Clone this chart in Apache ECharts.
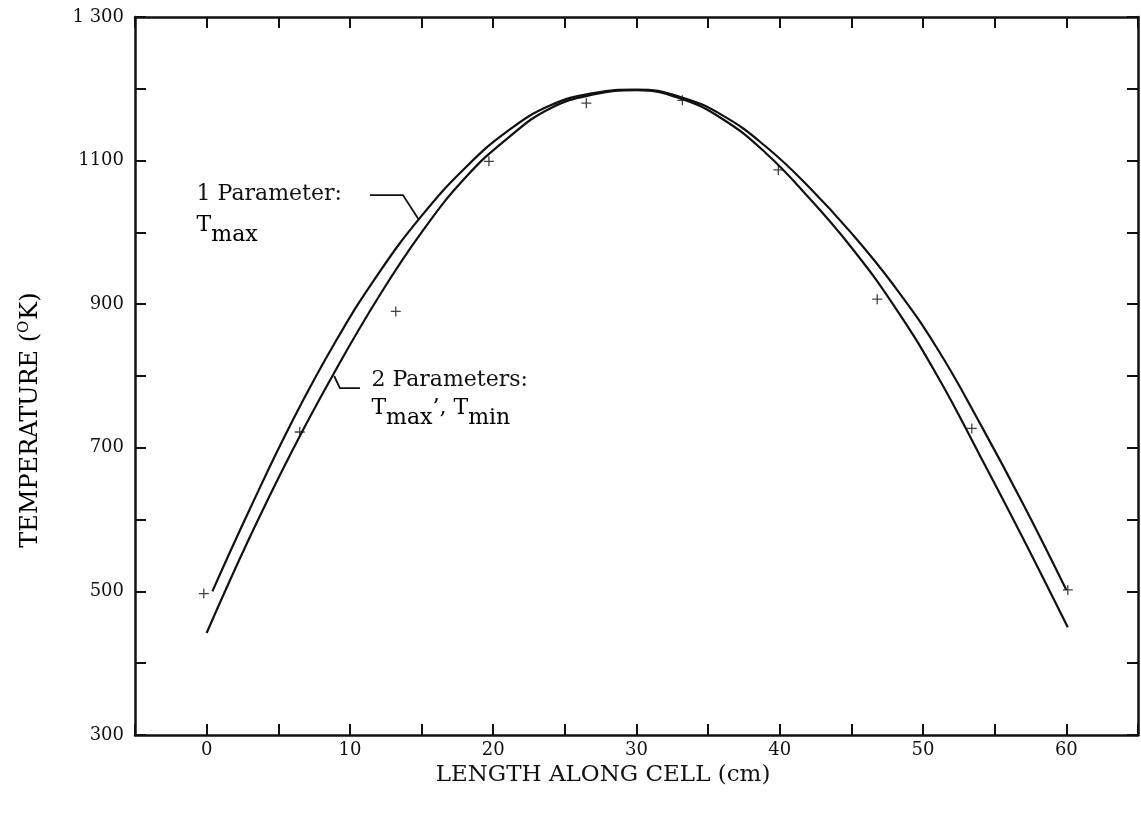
<!DOCTYPE html>
<html>
<head>
<meta charset="utf-8">
<script src="https://cdn.jsdelivr.net/npm/echarts@6/dist/echarts.min.js"></script>
<style>
  html, body { margin: 0; padding: 0; background: #ffffff; }
  #chart { width: 1141px; height: 821px; }
</style>
</head>
<body>
<div id="chart"></div>
<script>
// Axis ranges and labelled ticks
const xRange = [-5, 65];
const xStep = 5;
const xLabelValues = [0, 10, 20, 30, 40, 50, 60];
const yRange = [300, 1300];
const yStep = 100;
const yLabelValues = [300, 500, 700, 900, 1100, 1300];
const yLabelTexts = ['300', '500', '700', '900', '1100', '1 300'];

// Fitted profile, one parameter (T max)
const oneParamX = [0.4, 3, 6, 9, 12, 15, 18, 21, 24, 27, 30, 33, 36, 39, 42, 45, 48, 51, 54, 57, 60];
const oneParamT = [500, 614, 738, 848, 943, 1023, 1089, 1141, 1177, 1194, 1199, 1189, 1163, 1120, 1064, 999, 925, 838, 733, 621, 502];

// Fitted profile, two parameters (T max, T min)
const twoParamX = [0, 3, 6, 9, 12, 15, 18, 21, 24, 27, 30, 33, 36, 39, 42, 45, 48, 51, 54, 57, 60.1];
const twoParamT = [442, 575, 697, 808, 910, 1000, 1075, 1131, 1173, 1192, 1198, 1187, 1158, 1111, 1049, 979, 897, 800, 688, 573, 450];

// Measured temperatures along the cell
const measuredX = [-0.2, 6.5, 13.2, 19.7, 26.5, 33.2, 39.9, 46.8, 53.4, 60.1];
const measuredT = [497, 722, 890, 1099, 1180, 1184, 1087, 907, 727, 502];

// Curve annotations, anchored in data units
const oneParamTextAt = [-0.7, 1053];
const oneParamSubAt = [-0.7, 1009];
const oneParamLeader = [[11.4, 1052], [13.7, 1052], [14.8, 1018]];
const twoParamTextAt = [11.5, 794];
const twoParamSubAt = [11.5, 753];
const twoParamLeader = [[10.7, 783], [9.3, 783], [8.9, 800]];

const INK = '#111111';
const FONT = 'DejaVu Serif';

function pairs(xs, ys) { return xs.map((x, i) => [x, ys[i]]); }

const plusSymbol = 'path://M-0.13,-1 L0.13,-1 L0.13,-0.13 L1,-0.13 L1,0.13 L0.13,0.13 L0.13,1 L-0.13,1 L-0.13,0.13 L-1,0.13 L-1,-0.13 L-0.13,-0.13 Z';

const chart = echarts.init(document.getElementById('chart'), null, { renderer: 'canvas' });

const axisLine = { show: true, onZero: false, lineStyle: { color: INK, width: 2.5 } };
const axisTick = { show: true, inside: true, length: 11, lineStyle: { color: INK, width: 2 } };

chart.setOption({
  backgroundColor: '#ffffff',
  animation: false,
  grid: { left: 135, right: 3, top: 17, bottom: 86, containLabel: false },
  xAxis: [
    {
      type: 'value', position: 'bottom', min: xRange[0], max: xRange[1], interval: xStep,
      axisLine: axisLine, axisTick: axisTick, splitLine: { show: false },
      axisLabel: {
        show: true, margin: 6, color: INK, fontFamily: FONT, fontSize: 18,
        formatter: v => (xLabelValues.indexOf(v) >= 0 ? String(v) : '')
      }
    },
    {
      type: 'value', position: 'top', min: xRange[0], max: xRange[1], interval: xStep,
      axisLine: axisLine, axisTick: axisTick, splitLine: { show: false },
      axisLabel: { show: false }
    }
  ],
  yAxis: [
    {
      type: 'value', position: 'left', min: yRange[0], max: yRange[1], interval: yStep,
      axisLine: axisLine, axisTick: axisTick, splitLine: { show: false },
      axisLabel: {
        show: true, margin: 11, color: INK, fontFamily: FONT, fontSize: 18,
        formatter: v => { const i = yLabelValues.indexOf(v); return i >= 0 ? yLabelTexts[i] : ''; }
      }
    },
    {
      type: 'value', position: 'right', min: yRange[0], max: yRange[1], interval: yStep,
      axisLine: axisLine, axisTick: axisTick, splitLine: { show: false },
      axisLabel: { show: false }
    }
  ],
  series: [
    {
      name: '1 Parameter', type: 'line', xAxisIndex: 0, yAxisIndex: 0,
      data: pairs(oneParamX, oneParamT), smooth: 0.45, showSymbol: false,
      lineStyle: { color: INK, width: 2.2 }, z: 3
    },
    {
      name: '2 Parameters', type: 'line', xAxisIndex: 0, yAxisIndex: 0,
      data: pairs(twoParamX, twoParamT), smooth: 0.45, showSymbol: false,
      lineStyle: { color: INK, width: 2.2 }, z: 3
    },
    {
      name: 'Measured', type: 'scatter', xAxisIndex: 0, yAxisIndex: 0,
      data: pairs(measuredX, measuredT), symbol: plusSymbol, symbolSize: 10,
      itemStyle: { color: INK }, z: 4
    }
  ]
});

// Axis titles and curve annotations
const toPx = p => chart.convertToPixel({ xAxisIndex: 0, yAxisIndex: 0 }, p);

const subRich = {
  n: { fontFamily: FONT, fontSize: 22, color: INK, lineHeight: 24, verticalAlign: 'top' },
  s: { fontFamily: FONT, fontSize: 22, color: INK, lineHeight: 24, verticalAlign: 'top', padding: [10, 0, 0, 0] }
};

function labelText(at, text) {
  const p = toPx(at);
  return {
    type: 'text', x: p[0], y: p[1], z: 10,
    style: { text: text, fill: INK, font: '22px "' + FONT + '"', textAlign: 'left', textVerticalAlign: 'middle' }
  };
}
function subText(at, text) {
  const p = toPx(at);
  return {
    type: 'text', x: p[0], y: p[1] - 12, z: 10,
    style: { text: text, rich: subRich, textAlign: 'left', textVerticalAlign: 'top' }
  };
}
function leader(points) {
  return {
    type: 'polyline', z: 10,
    shape: { points: points.map(toPx) },
    style: { stroke: INK, lineWidth: 1.8, fill: null }
  };
}

chart.setOption({
  graphic: [
    labelText(oneParamTextAt, '1 Parameter:'),
    subText(oneParamSubAt, '{n|T}{s|max}'),
    leader(oneParamLeader),
    labelText(twoParamTextAt, '2 Parameters:'),
    subText(twoParamSubAt, '{n|T}{s|max}{n|\u2019, T}{s|min}'),
    leader(twoParamLeader),
    {
      type: 'text', x: 603, y: 775, z: 10,
      style: {
        text: 'LENGTH ALONG CELL (cm)', fill: INK, font: '23px "' + FONT + '"',
        textAlign: 'center', textVerticalAlign: 'middle'
      }
    },
    {
      type: 'text', x: 29, y: 420, rotation: Math.PI / 2, z: 10,
      style: {
        text: '{t|TEMPERATURE (}{o|O}{t|K)}',
        textAlign: 'center', textVerticalAlign: 'middle',
        rich: {
          t: { fontFamily: FONT, fontSize: 24, color: INK, lineHeight: 28, verticalAlign: 'bottom' },
          o: { fontFamily: FONT, fontSize: 15, color: INK, lineHeight: 19, verticalAlign: 'bottom', padding: [0, 1, 11, 0] }
        }
      }
    }
  ]
});
</script>
</body>
</html>
